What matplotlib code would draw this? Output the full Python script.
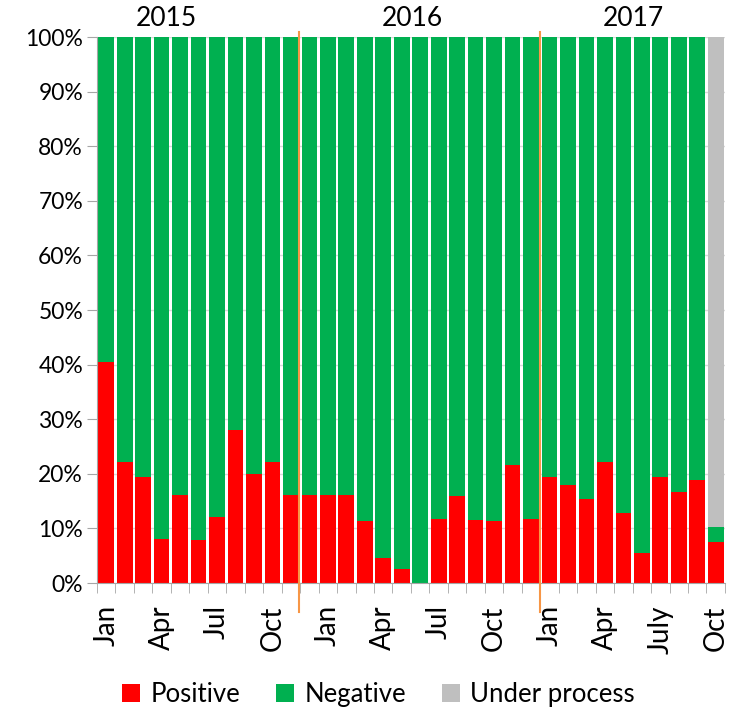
import numpy as np
import matplotlib
matplotlib.use("Agg")
from matplotlib import pyplot as plt
from matplotlib.ticker import PercentFormatter

# monthly shares (%), Jan 2015 .. Oct 2017
months = ["Jan", "Feb", "Mar", "Apr", "May", "Jun", "Jul", "Aug", "Sep", "Oct", "Nov", "Dec",
          "Jan", "Feb", "Mar", "Apr", "May", "Jun", "Jul", "Aug", "Sep", "Oct", "Nov", "Dec",
          "Jan", "Feb", "Mar", "Apr", "May", "Jun", "July", "Aug", "Sep", "Oct"]
positive = [40.5, 22.2, 19.5, 8.1, 16.1, 7.8, 12.0, 28.1, 20.0, 22.2, 16.1, 16.1,
            16.1, 16.2, 11.4, 4.6, 2.5, 0.0, 11.7, 16.0, 11.5, 11.3, 21.7, 11.7,
            19.5, 18.0, 15.3, 22.2, 12.9, 5.5, 19.5, 16.6, 18.9, 7.6]
negative = [59.5, 77.8, 80.5, 91.9, 83.9, 92.2, 88.0, 71.9, 80.0, 77.8, 83.9, 83.9,
            83.9, 83.8, 88.6, 95.4, 97.5, 100.0, 88.3, 84.0, 88.5, 88.7, 78.3, 88.3,
            80.5, 82.0, 84.7, 77.8, 87.1, 94.5, 80.5, 83.4, 81.1, 2.7]
under_process = [0] * 33 + [89.7]
shown_labels = [0, 3, 6, 9, 12, 15, 18, 21, 24, 27, 30, 33]
years = ["2015", "2016", "2017"]
year_label_pos = [3.24, 16.55, 28.52]
year_breaks = [10.45, 23.5]

plt.rcParams['font.family'] = ['Lato', 'DejaVu Sans']

fig = plt.figure(figsize=(7.31, 7.09), dpi=100)
ax = fig.add_axes([0.1327, 0.1777, 0.859, 0.770])

x = np.arange(len(months))
pos = np.array(positive)
neg = np.array(negative)
w = 0.85
ax.bar(x, pos, width=w, color="#ff0000", label="Positive", zorder=2)
ax.bar(x, neg, width=w, bottom=pos, color="#00b050", label="Negative", zorder=2)
ax.bar(x, under_process, width=w, bottom=pos + neg, color="#bfbfbf", label="Under process", zorder=2)

for b in year_breaks:
    ax.axvline(b, ymin=-0.053, ymax=1.009, color="#f79646", lw=1.5, zorder=3, clip_on=False)

for yl, xp in zip(years, year_label_pos):
    ax.text(xp, 103.4, yl, ha="center", va="center", fontsize=19)

ax.set_xlim(-0.5, len(months) - 0.5)
ax.set_ylim(0, 100)
ax.set_yticks(np.arange(0, 101, 10))
ax.yaxis.set_major_formatter(PercentFormatter(decimals=0))
ax.grid(axis="y", color="#d9d9d9", lw=1, zorder=0)

ax.set_xticks(x[shown_labels])
ax.set_xticklabels([months[i] for i in shown_labels], rotation=90, fontsize=20)
ax.set_xticks(np.arange(-0.5, len(months), 1), minor=True)
ax.tick_params(axis="x", which="major", length=0, pad=16)
ax.tick_params(axis="x", which="minor", length=7, color="#a6a6a6")
ax.tick_params(axis="y", labelsize=16.5, length=7, color="#a6a6a6", pad=3)

for s in ["top", "right"]:
    ax.spines[s].set_visible(False)
ax.spines["left"].set_color("#a6a6a6")
ax.spines["bottom"].set_color("#a6a6a6")

fig.legend(loc="center", bbox_to_anchor=(0.518, 0.021), ncol=3, frameon=False,
           fontsize=18.5, handlelength=0.7, handleheight=0.7, columnspacing=1.4,
           handletextpad=0.4, borderpad=0)

fig.savefig("out.png", dpi=100)
